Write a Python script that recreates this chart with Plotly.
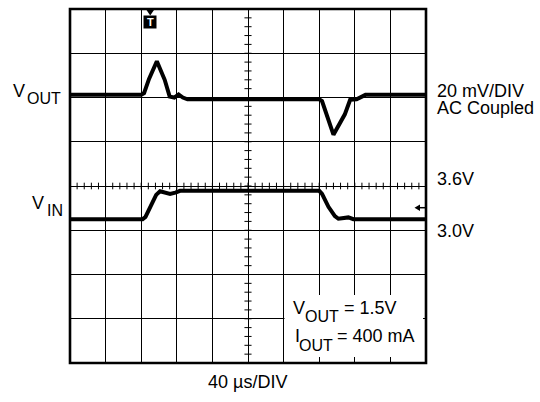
import plotly.graph_objects as go

# ---- data (divisions: x 0..10, y 0..8) ----
vout_t = [0.0, 2.00, 2.08, 2.22, 2.44, 2.66, 2.80, 2.93, 3.05, 3.17, 3.30, 7.00, 7.08, 7.40, 7.72, 7.87, 8.05, 8.17, 8.30, 10.0]
vout_v = [6.06, 6.06, 6.10, 6.42, 6.82, 6.40, 6.02, 6.00, 6.07, 6.00, 5.96, 5.96, 5.92, 5.16, 5.62, 5.95, 5.96, 6.02, 6.06, 6.06]

vin_t = [0.0, 2.04, 2.12, 2.27, 2.42, 2.53, 2.66, 2.81, 2.96, 3.09, 7.00, 7.08, 7.26, 7.44, 7.54, 7.68, 7.82, 7.96, 10.0]
vin_v = [3.25, 3.25, 3.30, 3.53, 3.80, 3.88, 3.85, 3.82, 3.85, 3.89, 3.89, 3.82, 3.53, 3.32, 3.26, 3.28, 3.29, 3.25, 3.25]

x_divs = 10
y_divs = 8
minor_per_div = 5

FONT = "Liberation Sans, Arial, sans-serif"
W, H = 540, 402
L, R, T, B = 70, 114, 9, 39
PW, PH = W - L - R, H - T - B


def px2x(px):
    return (px - L) / PW * x_divs


def py2y(py):
    return (H - B - py) / PH * y_divs


def ann(text, px, py, size, anchor="left", color="black"):
    return dict(text=text, x=(px - L) / PW, y=(H - B - py) / PH, xref="paper", yref="paper",
                xanchor=anchor, yanchor="middle", showarrow=False,
                font=dict(size=size, color=color, family=FONT), borderpad=0, borderwidth=0)


fig = go.Figure()
fig.add_trace(go.Scatter(x=vout_t, y=vout_v, mode="lines", line=dict(color="black", width=4),
                         hoverinfo="skip", showlegend=False))
fig.add_trace(go.Scatter(x=vin_t, y=vin_v, mode="lines", line=dict(color="black", width=4),
                         hoverinfo="skip", showlegend=False))

shapes = []
# minor ticks on centre lines
for k in range(x_divs * minor_per_div + 1):
    xv = k / minor_per_div
    shapes.append(dict(type="line", xref="x", yref="y", x0=xv, x1=xv,
                       y0=y_divs / 2 - 0.075, y1=y_divs / 2 + 0.075,
                       line=dict(color="black", width=1)))
for k in range(y_divs * minor_per_div + 1):
    yv = k / minor_per_div
    shapes.append(dict(type="line", xref="x", yref="y", y0=yv, y1=yv,
                       x0=x_divs / 2 - 0.1, x1=x_divs / 2 + 0.1,
                       line=dict(color="black", width=1)))
# white box behind the condition text
shapes.append(dict(type="rect", xref="x", yref="y", x0=px2x(284.5), x1=px2x(423), y0=py2y(357), y1=py2y(295),
                   fillcolor="white", line=dict(width=0), layer="above"))
# border
shapes.append(dict(type="rect", xref="paper", yref="paper", x0=0, x1=1, y0=0, y1=1,
                   line=dict(color="black", width=2.6), layer="above"))
# trigger marker
shapes.append(dict(type="rect", xref="x", yref="y", x0=px2x(143.5), x1=px2x(156.5), y0=py2y(28.5), y1=py2y(15.5),
                   fillcolor="black", line=dict(width=0), layer="above"))
shapes.append(dict(type="path", xref="x", yref="y",
                   path=f"M {px2x(146.5)},{py2y(10)} L {px2x(154)},{py2y(10)} L {px2x(150.2)},{py2y(15.5)} Z",
                   fillcolor="black", line=dict(width=0), layer="above"))
# ground reference arrow
shapes.append(dict(type="path", xref="x", yref="y",
                   path=f"M {px2x(414.5)},{py2y(207.7)} L {px2x(420)},{py2y(204.5)} L {px2x(420)},{py2y(211)} Z",
                   fillcolor="black", line=dict(width=0), layer="above"))
shapes.append(dict(type="line", xref="x", yref="y", x0=px2x(418), x1=px2x(426), y0=py2y(207.7), y1=py2y(207.7),
                   line=dict(color="black", width=1.5), layer="above"))

annotations = [
    ann("<b>T</b>", 150.2, 22.3, 11, anchor="center", color="white"),
    ann("V", 13, 91.2, 18), ann("OUT", 27, 98.3, 16),
    ann("V", 32, 203.3, 18), ann("IN", 46.5, 210, 16),
    ann("20 mV/DIV", 437, 91.3, 18), ann("AC Coupled", 437, 107.8, 18),
    ann("3.6V", 437, 178.7, 18), ann("3.0V", 437, 231, 18),
    ann("40 µs/DIV", 247.5, 382, 18, anchor="center"),
    ann("V", 293.3, 307.5, 18), ann("OUT", 305, 316.7, 16), ann("= 1.5V", 344, 307.5, 18),
    ann("I", 294.5, 336.3, 18), ann("OUT", 299, 345, 16), ann("= 400 mA", 336.5, 336.3, 18),
]

axis_common = dict(showgrid=True, gridcolor="black", gridwidth=1, dtick=1, tick0=0,
                   showticklabels=False, ticks="", zeroline=False, showline=False, fixedrange=True)

fig.update_layout(
    width=W, height=H,
    margin=dict(l=L, r=R, t=T, b=B, pad=0),
    paper_bgcolor="white", plot_bgcolor="white",
    xaxis=dict(range=[0, x_divs], **axis_common),
    yaxis=dict(range=[0, y_divs], **axis_common),
    shapes=shapes, annotations=annotations,
    showlegend=False,
)

fig.write_html("out.html", config={"displayModeBar": False},
               post_script="document.body.style.margin='0';document.body.style.padding='0';document.body.style.overflow='hidden';")
